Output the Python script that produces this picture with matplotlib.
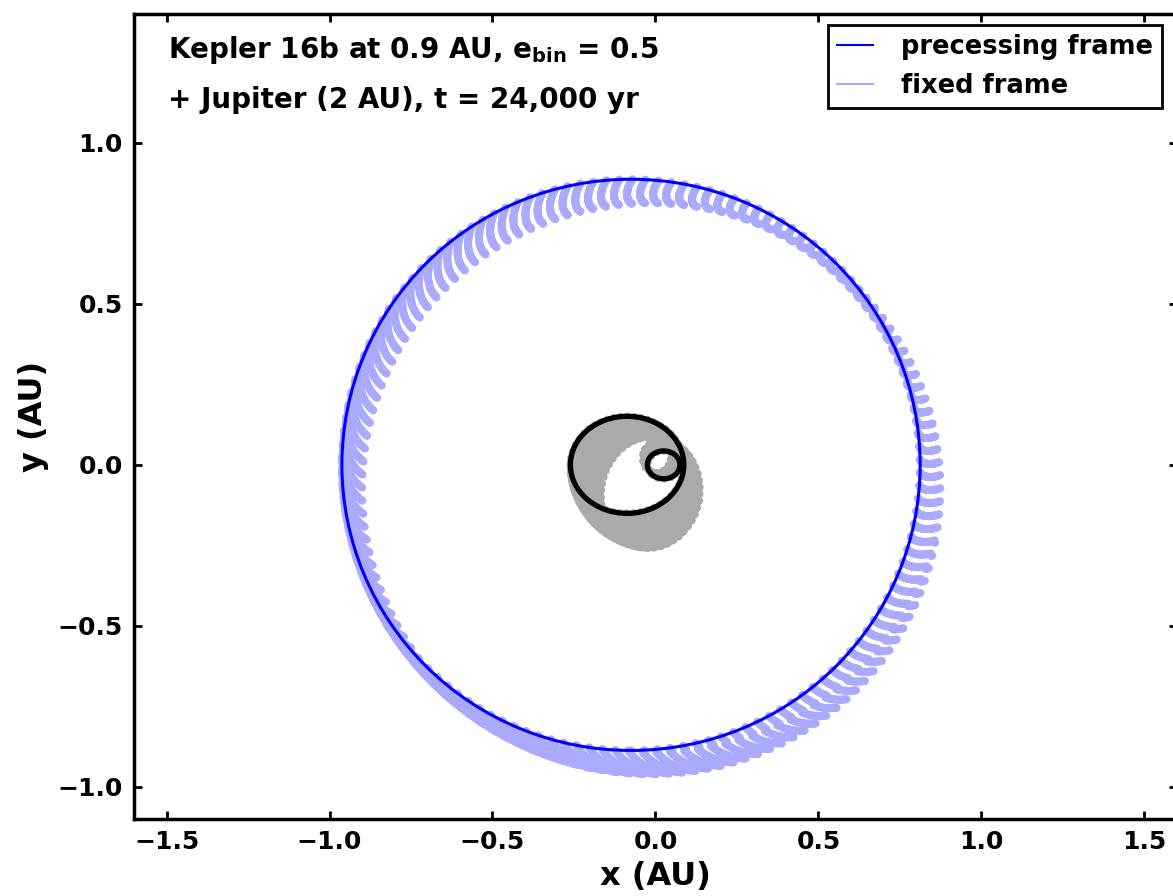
import matplotlib
matplotlib.use('Agg')
import matplotlib.pyplot as plt
from matplotlib.patches import Circle, Ellipse
from matplotlib.transforms import Affine2D
from matplotlib.lines import Line2D

plt.rcParams['font.family'] = 'DejaVu Sans'
plt.rcParams['font.weight'] = 'bold'
plt.rcParams['axes.labelweight'] = 'bold'
plt.rcParams['mathtext.default'] = 'bf'

# Planet orbit in the precessing (binary) frame
planet_center = (-0.075, 0.0)
planet_radius = 0.887

# Binary orbits around the barycentre (focus at origin)
star_names = ['Kepler-16A', 'Kepler-16B']
star_a = [0.050, 0.174]          # semi-major axes (AU)
star_peri = [180.0, 0.0]         # periapsis direction (deg)
e_bin = 0.5

# Orientation of the binary frame at the sampled times (deg)
precession = [0, 2, 4, 6, 8, 10, 12, 14, 16, 18, 20, 22, 24, 26, 28, 30,
              32, 34, 36, 38, 40, 42, 44, 46, 48, 50, 52, 54, 56, 58, 60,
              62, 64, 66, 68, 70, 72, 74, 76, 78, 80]

fig = plt.figure(figsize=(11.73, 8.96), dpi=100)
ax = fig.add_axes([0.1142, 0.0859, 0.8892, 0.8984])

# radius of the planet orbit in points, used to keep the sample dots in step
r_pt = planet_radius * 326 * 72 / 100.
dot_lw = 5.8
spacing = 9.4                    # pt between samples along the orbit
drift = 0.002                    # extra phase per snapshot (rad)

for k, ang in enumerate(precession):
    rot = Affine2D().rotate_deg(ang) + ax.transData
    theta = ang * 3.141592653589793 / 180.
    off = ((r_pt * (theta - k * drift)) % spacing) / dot_lw
    ring = Circle(planet_center, planet_radius, fill=False, color='#aaaaff',
                  lw=dot_lw, transform=rot, zorder=1,
                  linestyle=(off, (0.001, spacing / dot_lw)))
    ring.set_capstyle('round')
    ax.add_patch(ring)

    for a, peri in zip(star_a, star_peri):
        rot_b = Affine2D().rotate_deg(ang + peri) + ax.transData
        orb = Ellipse((-a * e_bin, 0), 2 * a, 2 * a * (1 - e_bin ** 2) ** 0.5,
                      fill=False, color='#aaaaaa', lw=5.5, transform=rot_b,
                      zorder=2, linestyle=(0, (0.001, 0.9)))
        orb.set_capstyle('round')
        ax.add_patch(orb)

# precessing frame: planet and both stars
ax.add_patch(Circle(planet_center, planet_radius, fill=False, color='b',
                    lw=2.2, zorder=3))
for a, peri in zip(star_a, star_peri):
    rot_b = Affine2D().rotate_deg(peri) + ax.transData
    ax.add_patch(Ellipse((-a * e_bin, 0), 2 * a, 2 * a * (1 - e_bin ** 2) ** 0.5,
                         fill=False, color='k', lw=3.8, transform=rot_b, zorder=4))

ax.set_xlim(-1.6, 1.6)
ax.set_ylim(-1.1, 1.4)
ax.set_xticks([-1.5, -1.0, -0.5, 0.0, 0.5, 1.0, 1.5])
ax.set_yticks([-1.0, -0.5, 0.0, 0.5, 1.0])
ax.tick_params(direction='in', length=6, width=2, top=True, right=True,
               labelsize=18, pad=8)
for sp in ax.spines.values():
    sp.set_linewidth(2.5)

ax.set_xlabel('x (AU)', fontsize=23, labelpad=5)
ax.set_ylabel('y (AU)', fontsize=23, labelpad=6)

ax.text(0.033, 0.955, 'Kepler 16b at 0.9 AU, $e_{bin}$ = 0.5', transform=ax.transAxes,
        fontsize=20, va='center')
ax.text(0.033, 0.893, '+ Jupiter (2 AU), t = 24,000 yr', transform=ax.transAxes,
        fontsize=20, va='center')

handles = [Line2D([], [], color='b', lw=1.5, label='precessing frame'),
           Line2D([], [], color='#aaaaff', lw=1.5, label='fixed frame')]
leg = ax.legend(handles=handles, loc='upper right', fontsize=18.5,
                bbox_to_anchor=(0.986, 0.986), borderaxespad=0,
                handlelength=1.4, handletextpad=1.1, borderpad=0.35,
                fancybox=False, framealpha=1)
leg.get_frame().set_edgecolor('k')
leg.get_frame().set_linewidth(2)

fig.savefig('out.png', dpi=100)
